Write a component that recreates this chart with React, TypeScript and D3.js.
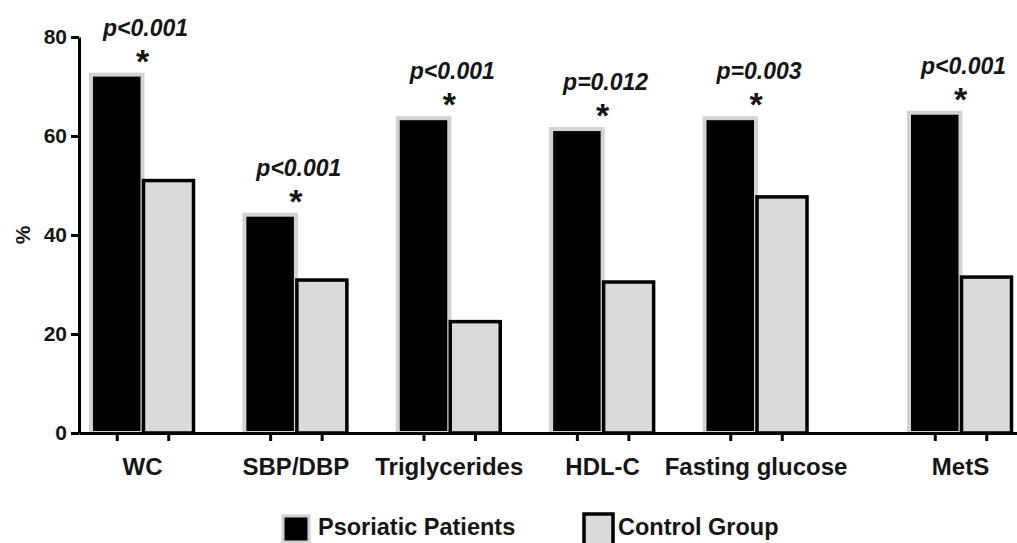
import React, { useEffect, useRef } from "react";
import * as d3 from "d3";

const categories = ["WC", "SBP/DBP", "Triglycerides", "HDL-C", "Fasting glucose", "MetS"];
const psoriatic = [72.4, 44.1, 63.6, 61.4, 63.6, 64.7];
const control = [51.0, 30.9, 22.5, 30.5, 47.7, 31.5];
const pLabels = ["p<0.001", "p<0.001", "p<0.001", "p=0.012", "p=0.003", "p<0.001"];
const seriesNames = ["Psoriatic Patients", "Control Group"];
const yTicks = [0, 20, 40, 60, 80];

const W = 1017, H = 543;
const FONT = "'Liberation Sans', Arial, sans-serif";
const DARK_EDGE = "#d2d2d2";
const LIGHT_FILL = "#dadada";
const INK = "#151515";

// MetS sits a bit further out than the other groups
const slot = (i: number) => i + (i >= 5 ? 1 / 3 : 0);

export default function App() {
  const yRef = useRef<SVGGElement>(null);
  const xRef = useRef<SVGGElement>(null);

  const y = d3.scaleLinear().domain([0, 80]).range([433, 37]);
  const x = d3.scaleLinear().domain([0, slot(5)]).range([142.5, 960.5]);
  const barW = 51.5;

  const tickCenters: number[] = [];
  categories.forEach((_, i) => {
    tickCenters.push(x(slot(i)) - barW / 2, x(slot(i)) + barW / 2);
  });

  useEffect(() => {
    const gy = d3.select(yRef.current!);
    gy.call(d3.axisLeft(y).tickValues(yTicks).tickSize(8).tickPadding(4).tickSizeOuter(0));
    gy.select(".domain").attr("stroke-width", 3);
    gy.selectAll(".tick line").attr("stroke-width", 3);
    gy.selectAll(".tick text")
      .attr("font-family", FONT)
      .attr("font-weight", "bold")
      .attr("font-size", 21)
      .attr("fill", INK);

    const xs = d3.scaleLinear().domain([79, W]).range([79, W]);
    const gx = d3.select(xRef.current!);
    gx.call(d3.axisBottom(xs).tickValues(tickCenters).tickSize(8).tickFormat(() => "").tickSizeOuter(0));
    gx.select(".domain").attr("stroke-width", 3);
    gx.selectAll(".tick line").attr("stroke-width", 3);
  }, []);

  return (
    <svg width={W} height={H} style={{ position: "absolute", left: 0, top: 0, background: "#fff" }}>
      <g>
        {categories.map((c, i) => {
          const cx = x(slot(i));
          return (
            <g key={c}>
              <rect x={cx - barW} y={y(psoriatic[i])} width={barW} height={y(0) - y(psoriatic[i])}
                fill="#000" stroke={DARK_EDGE} strokeWidth={4} />
              <rect x={cx + 1} y={y(control[i])} width={barW - 1.5} height={y(0) - y(control[i])}
                fill={LIGHT_FILL} stroke="#000" strokeWidth={3.5} />
              <text x={cx + 3} y={y(psoriatic[i]) - 39} textAnchor="middle" fontFamily={FONT}
                fontWeight="bold" fontStyle="italic" fontSize={23} fill={INK}>{pLabels[i]}</text>
              <text x={cx} y={y(psoriatic[i]) - 2} textAnchor="middle" fontFamily={FONT}
                fontWeight="bold" fontSize={34} fill={INK}>*</text>
              <text x={cx} y={475} textAnchor="middle" fontFamily={FONT}
                fontWeight="bold" fontSize={24} fill={INK}>{c}</text>
            </g>
          );
        })}
      </g>
      <g ref={xRef} transform={`translate(0,${y(0)})`} />
      <g ref={yRef} transform="translate(79,0)" />
      <text transform={`translate(30,${(y(0) + y(80)) / 2}) rotate(-90)`} textAnchor="middle"
        fontFamily={FONT} fontWeight="bold" fontSize={21} fill={INK}>%</text>

      <g>
        <rect x={283} y={516} width={26} height={26} fill="#000" stroke={DARK_EDGE} strokeWidth={3} />
        <text x={318} y={535} fontFamily={FONT} fontWeight="bold" fontSize={23.5} fill={INK}>{seriesNames[0]}</text>
        <rect x={584} y={514} width={29} height={32} fill={LIGHT_FILL} stroke="#000" strokeWidth={3.5} />
        <text x={618} y={535} fontFamily={FONT} fontWeight="bold" fontSize={23.5} fill={INK}>{seriesNames[1]}</text>
      </g>
    </svg>
  );
}
